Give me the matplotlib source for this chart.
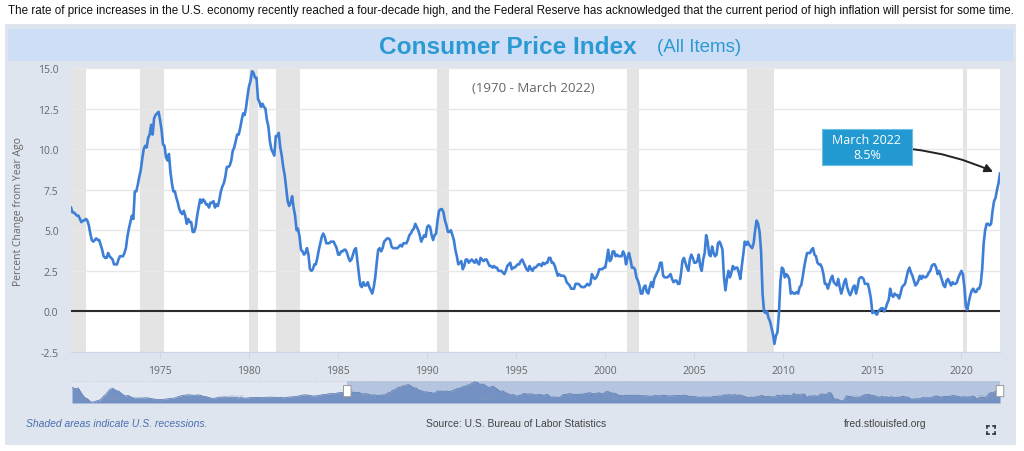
import matplotlib
matplotlib.use("Agg")
import matplotlib.pyplot as plt
from matplotlib.patches import Rectangle, FancyBboxPatch
from matplotlib.lines import Line2D
import numpy as np

# CPI, percent change from year ago, monthly (Jan 1970 - Mar 2022)
cpi_1970s = [6.4, 6.1, 6.1, 6.0, 5.9, 5.9, 5.7, 5.5, 5.6, 5.6, 5.7, 5.6,
             5.3, 4.8, 4.4, 4.3, 4.4, 4.5, 4.4, 4.4, 4.1, 3.8, 3.4, 3.3,
             3.3, 3.6, 3.4, 3.3, 3.2, 2.9, 2.9, 2.9, 3.2, 3.4, 3.4, 3.4,
             3.6, 3.9, 4.6, 5.1, 5.5, 5.9, 5.7, 7.4, 7.4, 7.8, 8.3, 8.7,
             9.4, 10.0, 10.2, 10.1, 10.7, 10.9, 11.5, 10.9, 11.9, 12.1, 12.2, 12.3,
             11.8, 11.2, 10.3, 10.2, 9.5, 9.3, 9.7, 8.6, 7.9, 7.4, 7.4, 7.0,
             6.7, 6.3, 6.1, 6.0, 6.2, 5.9, 5.4, 5.7, 5.5, 5.5, 4.9, 4.9,
             5.2, 5.9, 6.4, 6.9, 6.7, 6.9, 6.8, 6.6, 6.6, 6.4, 6.7, 6.7,
             6.8, 6.4, 6.6, 6.5, 6.9, 7.4, 7.7, 7.9, 8.3, 8.9, 8.9, 9.0,
             9.3, 9.9, 10.1, 10.5, 10.9, 10.9, 11.3, 11.8, 12.2, 12.1, 12.6, 13.3]
cpi_1980s = [13.9, 14.2, 14.8, 14.7, 14.4, 14.4, 13.1, 12.9, 12.6, 12.8, 12.6, 12.5,
             11.8, 11.4, 10.5, 10.0, 9.8, 9.6, 10.8, 10.8, 11.0, 10.1, 9.6, 8.9,
             8.4, 7.6, 6.8, 6.5, 6.7, 7.1, 6.4, 5.9, 5.0, 5.1, 4.6, 3.8,
             3.7, 3.5, 3.6, 3.9, 3.5, 2.6, 2.5, 2.6, 2.9, 2.9, 3.3, 3.8,
             4.2, 4.6, 4.8, 4.6, 4.2, 4.2, 4.2, 4.3, 4.3, 4.3, 4.1, 3.9,
             3.5, 3.5, 3.7, 3.7, 3.8, 3.8, 3.6, 3.3, 3.1, 3.2, 3.5, 3.8,
             3.9, 3.1, 2.3, 1.6, 1.5, 1.8, 1.6, 1.6, 1.8, 1.5, 1.3, 1.1,
             1.5, 2.1, 3.0, 3.8, 3.9, 3.7, 3.9, 4.3, 4.4, 4.5, 4.5, 4.4,
             4.0, 3.9, 3.9, 3.9, 3.9, 4.0, 4.1, 4.0, 4.2, 4.2, 4.2, 4.4,
             4.7, 4.8, 5.0, 5.1, 5.4, 5.2, 5.0, 4.7, 4.3, 4.5, 4.7, 4.6]
cpi_1990s = [5.2, 5.3, 5.2, 4.7, 4.4, 4.7, 4.8, 5.6, 6.2, 6.3, 6.3, 6.1,
             5.6, 5.3, 4.9, 4.9, 5.0, 4.7, 4.4, 3.8, 3.4, 2.9, 3.0, 3.1,
             2.6, 2.8, 3.2, 3.2, 3.0, 3.1, 3.2, 3.1, 3.0, 3.2, 3.0, 2.9,
             3.3, 3.2, 3.1, 3.2, 3.2, 3.0, 2.8, 2.8, 2.7, 2.8, 2.7, 2.7,
             2.5, 2.5, 2.5, 2.4, 2.3, 2.5, 2.8, 2.9, 3.0, 2.6, 2.7, 2.7,
             2.8, 2.9, 2.9, 3.1, 3.2, 3.0, 2.8, 2.6, 2.5, 2.8, 2.6, 2.5,
             2.7, 2.7, 2.8, 2.9, 2.9, 2.8, 3.0, 2.9, 3.0, 3.0, 3.3, 3.3,
             3.0, 3.0, 2.8, 2.5, 2.2, 2.3, 2.2, 2.2, 2.2, 2.1, 1.8, 1.7,
             1.6, 1.4, 1.4, 1.4, 1.7, 1.7, 1.7, 1.6, 1.5, 1.5, 1.5, 1.6,
             1.7, 1.6, 1.7, 2.3, 2.1, 2.0, 2.1, 2.3, 2.6, 2.6, 2.6, 2.7]
cpi_2000s = [2.7, 3.2, 3.8, 3.1, 3.2, 3.7, 3.7, 3.4, 3.5, 3.4, 3.4, 3.4,
             3.7, 3.5, 2.9, 3.3, 3.6, 3.2, 2.7, 2.7, 2.6, 2.1, 1.9, 1.6,
             1.1, 1.1, 1.5, 1.6, 1.2, 1.1, 1.5, 1.8, 1.5, 2.0, 2.2, 2.4,
             2.6, 3.0, 3.0, 2.2, 2.1, 2.1, 2.1, 2.2, 2.3, 2.0, 1.8, 1.9,
             1.9, 1.7, 1.7, 2.3, 3.1, 3.3, 3.0, 2.7, 2.5, 3.2, 3.5, 3.3,
             3.0, 3.0, 3.1, 3.5, 2.8, 2.5, 3.2, 3.6, 4.7, 4.3, 3.5, 3.4,
             4.0, 3.6, 3.4, 3.5, 4.2, 4.3, 4.1, 3.8, 2.1, 1.3, 2.0, 2.5,
             2.1, 2.4, 2.8, 2.6, 2.7, 2.7, 2.4, 2.0, 2.8, 3.5, 4.3, 4.1,
             4.3, 4.1, 4.0, 3.9, 4.2, 5.0, 5.6, 5.4, 4.9, 3.7, 1.1, 0.0,
             -0.1, 0.0, -0.4, -0.6, -1.0, -1.4, -2.0, -1.5, -1.3, -0.2, 1.8, 2.7]
cpi_2010s = [2.6, 2.1, 2.3, 2.2, 2.0, 1.1, 1.2, 1.1, 1.1, 1.2, 1.1, 1.5,
             1.6, 2.1, 2.7, 3.2, 3.6, 3.6, 3.6, 3.8, 3.9, 3.5, 3.4, 3.0,
             2.9, 2.9, 2.7, 2.3, 1.7, 1.7, 1.4, 1.7, 2.0, 2.2, 1.8, 1.7,
             1.6, 2.0, 1.5, 1.1, 1.4, 1.8, 2.0, 1.5, 1.2, 1.0, 1.2, 1.5,
             1.6, 1.1, 1.5, 2.0, 2.1, 2.1, 2.0, 1.7, 1.7, 1.7, 1.3, 0.8,
             -0.1, 0.0, -0.1, -0.2, 0.0, 0.1, 0.2, 0.2, 0.0, 0.2, 0.5, 0.7,
             1.4, 1.0, 0.9, 1.1, 1.0, 1.0, 0.8, 1.1, 1.5, 1.6, 1.7, 2.1,
             2.5, 2.7, 2.4, 2.2, 1.9, 1.6, 1.7, 1.9, 2.2, 2.0, 2.2, 2.1,
             2.1, 2.2, 2.4, 2.5, 2.8, 2.9, 2.9, 2.7, 2.3, 2.5, 2.2, 1.9,
             1.6, 1.5, 1.9, 2.0, 1.8, 1.6, 1.8, 1.7, 1.7, 1.8, 2.1, 2.3]
cpi_2020s = [2.5, 2.3, 1.5, 0.3, 0.1, 0.6, 1.0, 1.3, 1.4, 1.2, 1.2, 1.4,
             1.4, 1.7, 2.6, 4.2, 5.0, 5.4, 5.4, 5.3, 5.4, 6.2, 6.8, 7.0,
             7.5, 7.9, 8.5]

# quarterly values 1948-1969, only shown in the navigator strip
cpi_early = [10.0, 8.8, 9.5, 5.0, 1.3, 0.0, -2.7, -2.5, -1.5, -0.8, 2.0, 4.5,
             8.0, 9.3, 7.4, 6.6, 4.3, 2.5, 3.0, 1.5, 0.7, 0.8, 0.8, 0.9,
             1.0, 0.5, 0.0, -0.5, -0.6, -0.5, -0.1, 0.3, 0.4, 1.0, 2.0, 2.8,
             3.2, 3.6, 3.4, 3.1, 3.5, 3.2, 2.3, 1.9, 1.0, 0.4, 0.8, 1.5,
             1.6, 1.8, 1.4, 1.5, 1.5, 0.9, 1.2, 0.7, 0.8, 1.2, 1.2, 1.3,
             1.3, 1.1, 1.4, 1.6, 1.5, 1.3, 1.2, 1.2, 1.0, 1.5, 1.8, 1.9,
             2.3, 2.9, 3.4, 3.5, 3.0, 2.5, 2.7, 3.0, 3.7, 3.9, 4.4, 4.6,
             4.5, 5.3, 5.5, 5.8]

# recessions (start, end) in decimal years
recessions = [(1969.92, 1970.87), (1973.87, 1975.2), (1980.0, 1980.5),
              (1981.5, 1982.87), (1990.54, 1991.2), (2001.2, 2001.87),
              (2007.95, 2009.45), (2020.1, 2020.3)]

year_ticks = [1975, 1980, 1985, 1990, 1995, 2000, 2005, 2010, 2015, 2020]
y_ticks = [-2.5, 0.0, 2.5, 5.0, 7.5, 10.0, 12.5, 15.0]
nav_years = [1950, 1960, 1970, 1980, 1990, 2000, 2010, 2020]

caption = ("The rate of price increases in the U.S. economy recently reached a four-decade high, "
           "and the Federal Reserve has acknowledged that the current period of high inflation "
           "will persist for some time.")

W, H = 1024, 452
narrow = ['Liberation Sans', 'DejaVu Sans']
plain = ['Open Sans', 'DejaVu Sans']

def fx(x):
	return x / W

def fy(y):
	return 1 - y / H

cpi = np.array(cpi_1970s + cpi_1980s + cpi_1990s + cpi_2000s + cpi_2010s + cpi_2020s)
t = 1970 + np.arange(len(cpi)) / 12.0
t_end = t[-1]

fig = plt.figure(figsize=(W / 100, H / 100), dpi=100)

# panel background and title band (behind the axes)
fig.patches.append(Rectangle((fx(5), fy(446)), 1011 / W, 421 / H, transform=fig.transFigure,
                             facecolor='#dfe5ef', edgecolor='none', zorder=-2))
fig.patches.append(Rectangle((fx(8), fy(62)), 1005 / W, 32 / H, transform=fig.transFigure,
                             facecolor='#cfdef7', edgecolor='none', zorder=-1))

fig.text(fx(8), fy(11), caption, ha='left', va='center', fontsize=8.4, family=narrow, color='#111111')
fig.text(fx(637), fy(47), 'Consumer Price Index', ha='right', va='center', fontsize=17.6,
         fontweight='bold', family=narrow, color='#2b9ad3')
fig.text(fx(657), fy(47), '(All Items)', ha='left', va='center', fontsize=13.5,
         family=narrow, color='#2b9ad3')

#Main chart
ax = fig.add_axes([fx(71), fy(353), 929 / W, 284 / H])
ax.set_facecolor('white')
for s, e in recessions:
	ax.axvspan(s, e, color='#e4e4e4', lw=0, zorder=0.5)
ax.plot(t, cpi, color='#3d7fd7', lw=1.9, zorder=3, solid_joinstyle='round')
ax.axhline(0, color='#2b2b2b', lw=1.5, zorder=2)

ax.set_xlim(1970.0, t_end)
ax.set_ylim(-2.5, 15)
ax.set_yticks(y_ticks)
ax.set_yticklabels(['%.1f' % v for v in y_ticks])
ax.set_xticks(year_ticks)
ax.yaxis.grid(True, color='#e8e8e8', lw=1)
ax.set_axisbelow(True)
for sp in ['top', 'left', 'right']:
	ax.spines[sp].set_visible(False)
ax.spines['bottom'].set_color('#ccd6eb')
ax.tick_params(axis='y', length=0, pad=9, labelcolor='#666666', labelsize=7.5)
ax.tick_params(axis='x', length=4, width=0.8, color='#ccd6eb', pad=5,
               labelcolor='#666666', labelsize=7.5)
for lab in ax.get_xticklabels() + ax.get_yticklabels():
	lab.set_family(plain)

fig.text(fx(19), fy(211), 'Percent Change from Year Ago', rotation=90, ha='center', va='center',
         fontsize=7.5, color='#666666', family=plain)
fig.text(fx(533), fy(88), '(1970 - March 2022)', ha='center', va='center',
         fontsize=9.5, color='#666666', family=plain)

# annotation box + arrow
fig.patches.append(Rectangle((fx(822), fy(166)), 90 / W, 36 / H, transform=fig.transFigure,
                             facecolor='#2299d0', edgecolor='#6cc0e8', lw=0.8, zorder=5))
fig.text(fx(867), fy(148), 'March 2022\n8.5%', ha='center', va='center', fontsize=9,
         color='white', family=plain, linespacing=1.15, zorder=6)
ax.annotate('', xy=(2021.78, 8.6), xycoords='data', xytext=(fx(911), fy(150)),
            textcoords='figure fraction',
            arrowprops=dict(arrowstyle='-|>', color='#222222', lw=1.4,
                            connectionstyle='arc3,rad=-0.08', mutation_scale=12,
                            shrinkA=0, shrinkB=0))

#Navigator strip
nav = fig.add_axes([fx(72), fy(404), 928 / W, 22 / H])
t_early = 1948 + np.arange(len(cpi_early)) / 4.0
nav_t = np.concatenate([t_early, t])
nav_v = np.concatenate([cpi_early, cpi])
nav.set_facecolor('#e2e8f1')
nav.axvspan(1970.0, t_end, color='#b5c5df', lw=0, zorder=0)
nav.fill_between(nav_t, -3.5, nav_v, color='#7391c3', lw=0, zorder=1)
nav.plot(nav_t, nav_v, color='#5f7fb4', lw=0.6, zorder=2)
nav.set_xlim(1948.0, t_end)
nav.set_ylim(-3.5, 15.5)
nav.set_xticks([])
nav.set_yticks([])
for sp in nav.spines.values():
	sp.set_visible(False)
nav.axhline(15.5, color='#c4cad4', lw=0.8, ls=':')
for yr in nav_years:
	nav.text(yr + 0.3, 1.5, str(yr), fontsize=5.5, color='#8a9ab8', alpha=0.6, va='center',
	         family=plain, zorder=3)
for hx in [1970.0, t_end]:
	nav.add_patch(FancyBboxPatch((hx - 0.25, 2.0), 0.5, 9.5, boxstyle='round,pad=0.05',
	                             facecolor='white', edgecolor='#999999', lw=0.7,
	                             zorder=4, clip_on=False))

# footer
fig.text(fx(26), fy(424), 'Shaded areas indicate U.S. recessions.', ha='left', va='center',
         fontsize=7.5, style='italic', color='#4a6fae', family=narrow)
fig.text(fx(426), fy(424), 'Source: U.S. Bureau of Labor Statistics', ha='left', va='center',
         fontsize=7.5, color='#444444', family=narrow)
fig.text(fx(844), fy(424), 'fred.stlouisfed.org', ha='left', va='center',
         fontsize=7.5, color='#444444', family=narrow)

# fullscreen icon
cx, cy, r, k = 991, 431, 4, 2
for sx in [-1, 1]:
	for sy in [-1, 1]:
		x0, y0 = cx + sx * r, cy + sy * r
		fig.lines.append(Line2D([fx(x0), fx(x0)], [fy(y0), fy(y0 - sy * k)],
		                        transform=fig.transFigure, color='#333333', lw=1.2))
		fig.lines.append(Line2D([fx(x0), fx(x0 - sx * k)], [fy(y0), fy(y0)],
		                        transform=fig.transFigure, color='#333333', lw=1.2))

fig.savefig('out.png', dpi=100)
